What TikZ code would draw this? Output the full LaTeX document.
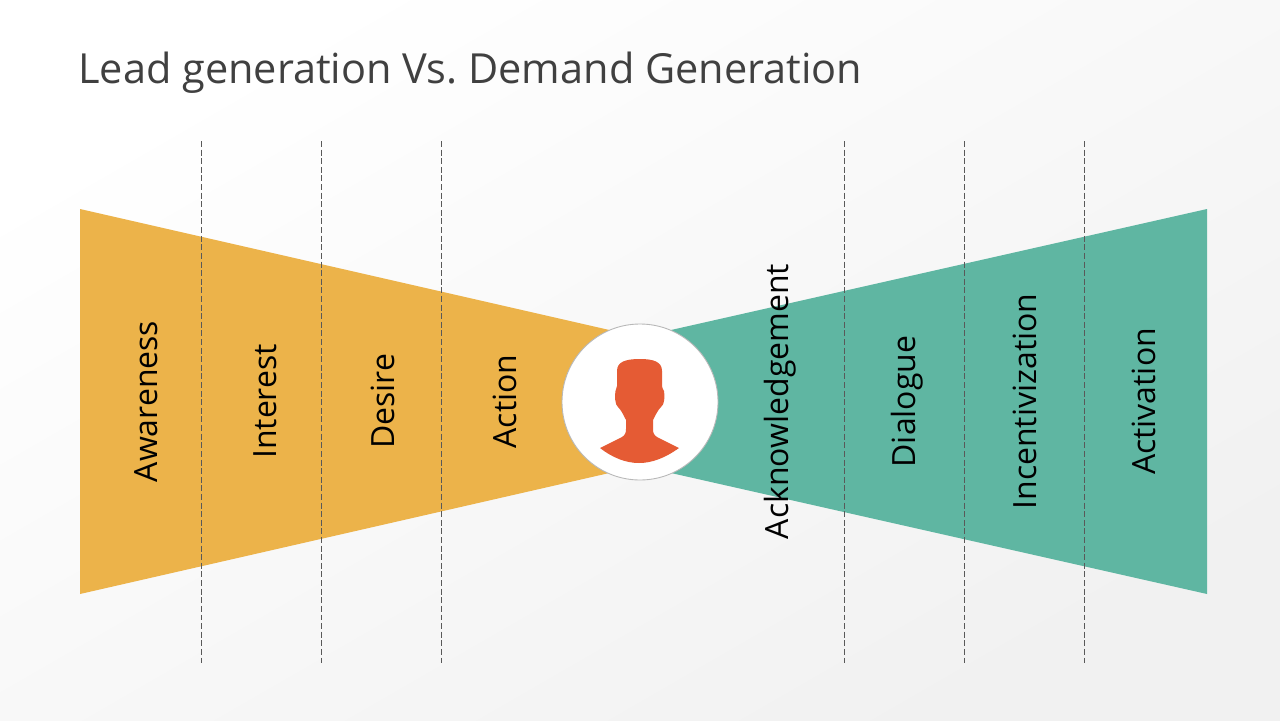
\documentclass[tikz,border=0pt]{standalone}
\usepackage{fontspec}
\setmainfont{Open Sans}
\usepackage{tikz}

\definecolor{fanleft}{HTML}{ECB34A}
\definecolor{fanright}{HTML}{5FB6A2}
\definecolor{personcolor}{HTML}{E55B34}
\definecolor{titlecolor}{HTML}{404040}
\definecolor{bgcorner}{HTML}{F1F1F1}

\tikzset{
	stagelabel/.style={rotate=90, anchor=center, inner sep=0pt, font=\fontsize{18.2}{20}\selectfont, text=black},
	stageline/.style={black!65, line width=0.5pt, dash pattern=on 3.4pt off 1.5pt},
}

\begin{document}
\frenchspacing
\begin{tikzpicture}[x=0.02cm, y=-0.02cm]

	\useasboundingbox (0,0) rectangle (1280,720);

	% background
	\shade[shading=axis, top color=white, bottom color=bgcorner, shading angle=30]
	(0,0) rectangle (1280,720);

	% title
	\node[anchor=base west, inner sep=0pt, text=titlecolor, font=\fontsize{23.6}{28}\selectfont] (title) at (78,83) {Lead generation Vs. Demand Generation};

	% the two fans
	\fill[fanleft] (80,209) -- (640,337) -- (640,466) -- (80,594) -- cycle;
	\fill[fanright] (1207,209) -- (640,337) -- (640,466) -- (1207,594) -- cycle;

	% dashed lines
	\foreach \x in {201,321,441,844,964,1084} {
		\draw[stageline] (\x,141) -- (\x,663);
	}

	% labels
	\node[stagelabel] (awareness) at (146.5,401.5) {Awareness};
	\node[stagelabel] (interest) at (265,401.5) {Interest};
	\node[stagelabel] (desire) at (382.5,401.5) {Desire};
	\node[stagelabel] (action) at (504.5,401.5) {Action};
	\node[stagelabel] (acknowledgement) at (780,401.5) {Acknowledgement};
	\node[stagelabel] (dialogue) at (907,401.5) {Dialogue};
	\node[stagelabel] (incentivization) at (1024.5,401.5) {Incentivization};
	\node[stagelabel] (activation) at (1144,401.5) {Activation};

	% circle in the middle
	\draw[fill=white, draw=black!28, line width=0.5pt] (640,402) circle (78);

	% person
	\fill[personcolor] (600,448)
	-- (622,437) .. controls (625,435) and (626,433) .. (626,429)
	-- (626,420) .. controls (623,414) and (621,410) .. (618,407)
	.. controls (615,405) and (614.5,396) .. (615.5,391)
	.. controls (616,389) and (617,388) .. (617,386)
	-- (617,371) .. controls (617,362) and (625,359) .. (640,359)
	.. controls (654,359) and (662,362) .. (662,371)
	-- (662,386) .. controls (662,388) and (663,389) .. (664,391)
	.. controls (665,396) and (664.5,405) .. (661,407)
	.. controls (658,410) and (656,414) .. (653,420)
	-- (653,429) .. controls (653,433) and (654,435) .. (657,437)
	-- (679,448) .. controls (665,458) and (652,463) .. (639,463)
	.. controls (626,463) and (613,458) .. (600,448) -- cycle;

\end{tikzpicture}
\end{document}
